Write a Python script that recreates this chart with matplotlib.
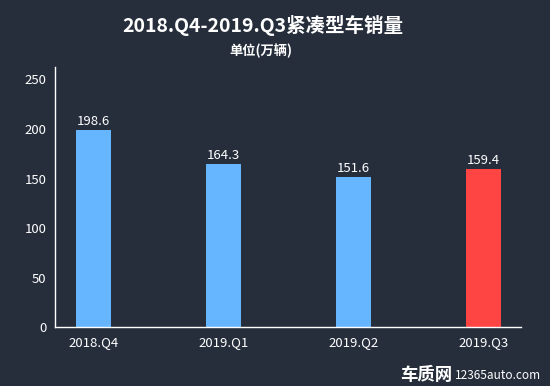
import matplotlib
matplotlib.use('Agg')
import matplotlib.pyplot as plt
import numpy as np

plt.rcParams['font.family'] = ['Noto Sans CJK SC', 'DejaVu Sans']

# dados do gráfico
quarters = ['2018.Q4', '2019.Q1', '2019.Q2', '2019.Q3']
sales = [198.6, 164.3, 151.6, 159.4]
bar_colors = ['#66b5ff', '#66b5ff', '#66b5ff', '#ff4444']
yticks = [0, 50, 100, 150, 200, 250]

bg = '#262e3c'

fig = plt.figure(figsize=(5.5, 3.86), dpi=100, facecolor=bg)
ax = fig.add_axes([0.1, 0.1516, 0.847, 0.674], facecolor=bg)

x = np.arange(len(quarters))
bars = ax.bar(x, sales, width=0.27, color=bar_colors, zorder=2)

for b, v in zip(bars, sales):
    ax.text(b.get_x() + b.get_width() / 2, v + 2, f'{v}', ha='center', va='bottom',
            color='white', fontsize=9.5)

ax.set_xlim(-0.296, 3.288)
ax.set_ylim(0, 262)
ax.set_xticks(x)
ax.set_xticklabels(quarters)
ax.set_yticks(yticks)
ax.tick_params(axis='both', length=0, colors='white', labelsize=9.5)
ax.tick_params(axis='y', pad=6)
ax.tick_params(axis='x', pad=6)

for s in ['top', 'right']:
    ax.spines[s].set_visible(False)
for s in ['left', 'bottom']:
    ax.spines[s].set_color('white')
    ax.spines[s].set_linewidth(1)

fig.text(0.477, 0.935, '2018.Q4-2019.Q3紧凑型车销量', ha='center', va='center',
         color='white', fontsize=14, fontweight='bold')
fig.text(0.475, 0.868, '单位(万辆)', ha='center', va='center',
         color='white', fontsize=9.5, fontweight='bold')

# marca d'água
fig.text(0.822, 0.028, '车质网', ha='right', va='center', color='white',
         fontsize=12.5, fontweight='bold', style='italic')
fig.text(0.828, 0.028, '12365auto.com', ha='left', va='center', color='white',
         fontsize=8.5)

fig.savefig('out.png', facecolor=bg)
